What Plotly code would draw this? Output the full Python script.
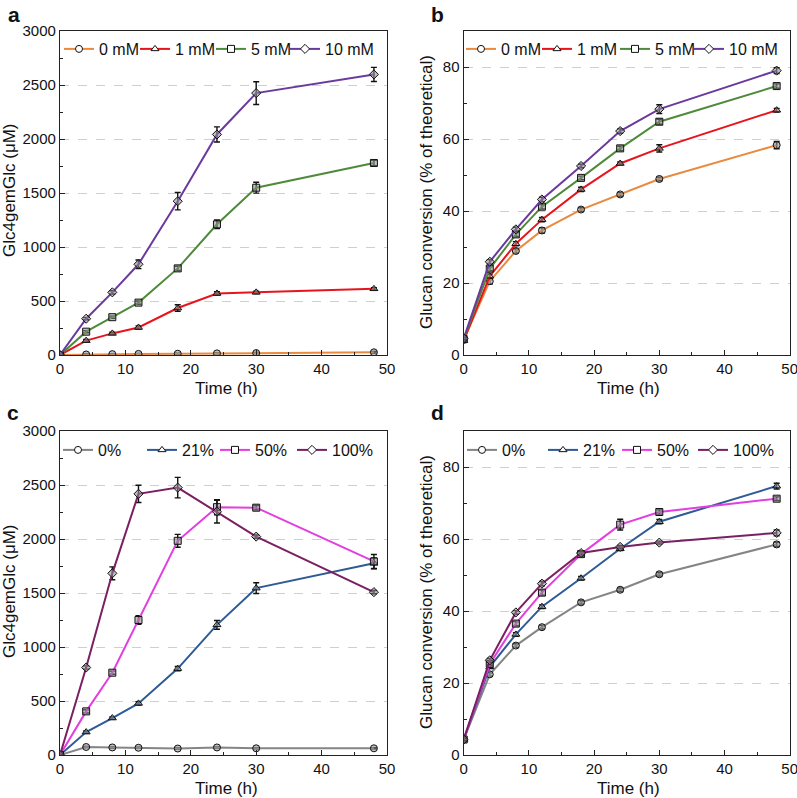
import plotly.graph_objects as go

time_h = [0, 4, 8, 12, 18, 24, 30, 48]

# Panel a: Glc4gemGlc (uM) vs ascorbate concentration
a_labels = ["0 mM", "1 mM", "5 mM", "10 mM"]
a_0mM = [0, 5, 8, 10, 12, 15, 18, 25]
a_1mM = [0, 133, 200, 255, 435, 570, 580, 613]
a_5mM = [0, 216, 350, 485, 802, 1210, 1549, 1778]
a_10mM = [0, 336, 580, 840, 1424, 2042, 2425, 2598]
a_err_0 = [5, 5, 5, 5, 5, 5, 5, 8]
a_err_1 = [5, 10, 10, 15, 30, 15, 10, 10]
a_err_5 = [5, 10, 10, 15, 20, 40, 50, 25]
a_err_10 = [5, 10, 15, 40, 80, 70, 105, 65]

# Panel b: glucan conversion (%)
b_0mM = [4.2, 20.5, 28.9, 34.6, 40.4, 44.6, 48.9, 58.3]
b_1mM = [4.0, 21.9, 30.9, 37.6, 46.0, 53.2, 57.4, 68.0]
b_5mM = [4.4, 24.0, 33.5, 41.2, 49.2, 57.4, 64.8, 74.7]
b_10mM = [4.6, 25.9, 34.9, 43.2, 52.5, 62.2, 68.3, 79.0]
b_err_0 = [0.3, 0.8, 0.6, 0.7, 0.5, 0.5, 0.5, 1.0]
b_err_1 = [0.3, 0.6, 0.6, 0.6, 0.6, 0.4, 1.0, 0.5]
b_err_5 = [0.3, 0.6, 0.6, 0.6, 0.5, 0.6, 0.7, 0.6]
b_err_10 = [0.3, 0.6, 0.6, 0.6, 0.5, 0.6, 1.2, 0.8]

# Panel c: Glc4gemGlc (uM) vs oxygen level
c_labels = ["0%", "21%", "50%", "100%"]
c_0 = [0, 74, 70, 67, 60, 70, 62, 62]
c_21 = [0, 212, 342, 478, 800, 1205, 1545, 1775]
c_50 = [0, 404, 762, 1250, 1983, 2295, 2290, 1792]
c_100 = [0, 810, 1682, 2418, 2476, 2253, 2022, 1508]
c_err_0 = [5, 5, 5, 5, 5, 5, 5, 5]
c_err_21 = [5, 10, 10, 15, 20, 40, 50, 50]
c_err_50 = [5, 15, 15, 40, 60, 70, 20, 65]
c_err_100 = [5, 15, 60, 80, 95, 105, 15, 15]

# Panel d: glucan conversion (%)
d_0 = [4.3, 22.4, 30.4, 35.5, 42.4, 45.9, 50.2, 58.5]
d_21 = [4.3, 24.5, 33.5, 41.2, 49.1, 57.3, 64.8, 74.7]
d_50 = [4.3, 25.3, 36.5, 45.1, 55.8, 64.0, 67.5, 71.2]
d_100 = [4.3, 26.3, 39.6, 47.6, 56.1, 57.8, 59.0, 61.7]
d_err_0 = [0.3, 0.5, 0.5, 0.5, 0.5, 0.5, 0.5, 0.6]
d_err_21 = [0.3, 0.5, 0.5, 0.5, 0.5, 0.5, 0.6, 0.8]
d_err_50 = [0.3, 0.5, 0.6, 0.7, 0.6, 1.5, 0.6, 0.5]
d_err_100 = [0.3, 0.5, 0.5, 0.6, 0.5, 0.4, 0.4, 0.8]

colors_ab = ["#E98A3E", "#E8141C", "#4F8A3A", "#6A3A9E"]
colors_cd = ["#858585", "#2E5A95", "#E23EE0", "#7A1F62"]
symbols = ["circle", "triangle-up", "square", "diamond"]

FONT = "Liberation Sans, Arial, sans-serif"
W, H = 797, 798

fig = go.Figure()

# legend text start positions (px) and legend row centre (px) for each panel
legend_text_x = [
    [99, 175, 251, 325],
    [501, 577, 655, 729],
    [98, 182, 255, 332],
    [502, 583, 657, 733],
]
legend_row_y = [49, 49, 450, 450]

panels = [
    ("x", "y", a_labels, [a_0mM, a_1mM, a_5mM, a_10mM], [a_err_0, a_err_1, a_err_5, a_err_10], colors_ab),
    ("x2", "y2", a_labels, [b_0mM, b_1mM, b_5mM, b_10mM], [b_err_0, b_err_1, b_err_5, b_err_10], colors_ab),
    ("x3", "y3", c_labels, [c_0, c_21, c_50, c_100], [c_err_0, c_err_21, c_err_50, c_err_100], colors_cd),
    ("x4", "y4", c_labels, [d_0, d_21, d_50, d_100], [d_err_0, d_err_21, d_err_50, d_err_100], colors_cd),
]

legends = {}
lg_idx = 0
for p, (xa, ya, labels, series, errs, cols) in enumerate(panels):
    for k, (name, vals, err, col, sym) in enumerate(zip(labels, series, errs, cols, symbols)):
        lg_idx += 1
        lg = "legend" if lg_idx == 1 else "legend%d" % lg_idx
        fig.add_trace(go.Scatter(
            x=time_h, y=vals, mode="lines+markers", name=name,
            xaxis=xa, yaxis=ya, showlegend=False,
            line=dict(color=col, width=2),
            marker=dict(symbol=sym, size=7, color="rgba(140,140,140,0.55)",
                        line=dict(color="#111", width=1)),
            error_y=dict(type="data", array=err, visible=True, color="#111",
                         thickness=1.4, width=3),
        ))
        # legend entry with open marker
        fig.add_trace(go.Scatter(
            x=[None], y=[None], mode="lines+markers", name=name,
            xaxis=xa, yaxis=ya, legend=lg, showlegend=True,
            line=dict(color=col, width=2),
            marker=dict(symbol=sym, size=7, color="white",
                        line=dict(color="#111", width=1)),
        ))
        legends[lg] = dict(
            orientation="h", x=(legend_text_x[p][k] - 40) / W, xanchor="left",
            y=1 - legend_row_y[p] / H, yanchor="middle",
            bgcolor="rgba(0,0,0,0)", font=dict(family=FONT, size=16, color="#111"),
            itemwidth=30, borderwidth=0,
        )

xd_left = [60 / W, 387 / W]
xd_right = [463.7 / W, 789.7 / W]
yd_top = [1 - 355 / H, 1 - 31 / H]
yd_bot = [1 - 755 / H, 1 - 431 / H]

def xaxis(domain, anchor):
    return dict(domain=domain, anchor=anchor, range=[0, 50], dtick=10,
                showline=True, linecolor="#222", linewidth=1.3, mirror=True,
                ticks="inside", ticklen=5, tickcolor="#222",
                minor=dict(ticks="inside", dtick=5, ticklen=3, tickcolor="#222"),
                showgrid=False, zeroline=False, automargin=False,
                ticklabeloverflow="allow",
                tickfont=dict(family=FONT, size=15, color="#111"))

def yaxis(domain, anchor, rng, dtick, minor):
    return dict(domain=domain, anchor=anchor, range=rng, dtick=dtick,
                showline=True, linecolor="#222", linewidth=1.3, mirror=True,
                ticks="inside", ticklen=5, tickcolor="#222",
                minor=dict(ticks="inside", dtick=minor, ticklen=3, tickcolor="#222", showgrid=False),
                showgrid=True, gridcolor="#cfcfcf", griddash="dash", gridwidth=1,
                zeroline=False, automargin=False, ticklabeloverflow="allow",
                tickfont=dict(family=FONT, size=15, color="#111"))

t_glc = "Glc4gemGlc (μM)"
t_conv = "Glucan conversion (% of theoretical)"

fig.update_layout(
    width=W, height=H, margin=dict(l=0, r=0, t=0, b=0, autoexpand=False),
    paper_bgcolor="white", plot_bgcolor="white",
    showlegend=True,
    xaxis=xaxis(xd_left, "y"), yaxis=yaxis(yd_top, "x", [0, 3000], 500, 250),
    xaxis2=xaxis(xd_right, "y2"), yaxis2=yaxis(yd_top, "x2", [0, 90], 20, 10),
    xaxis3=xaxis(xd_left, "y3"), yaxis3=yaxis(yd_bot, "x3", [0, 3000], 500, 250),
    xaxis4=xaxis(xd_right, "y4"), yaxis4=yaxis(yd_bot, "x4", [0, 90], 20, 10),
    **legends,
)

# axis titles
for txt, px, py, ang in [
    ("Time (h)", 226, 388, 0), ("Time (h)", 628, 388, 0),
    ("Time (h)", 226, 788, 0), ("Time (h)", 628, 788, 0),
    (t_glc, 9, 190, -90), (t_conv, 426, 192, -90),
    (t_glc, 9, 591, -90), (t_conv, 426, 592, -90),
]:
    fig.add_annotation(text=txt, x=px / W, y=1 - py / H, xref="paper", yref="paper",
                       showarrow=False, xanchor="center", yanchor="middle", textangle=ang,
                       font=dict(family=FONT, size=17, color="#111"))

for txt, px, py in [("a", 14, 14), ("b", 437, 14), ("c", 13, 412), ("d", 437, 412)]:
    fig.add_annotation(text="<b>%s</b>" % txt, x=px / W, y=1 - py / H, xref="paper", yref="paper",
                       showarrow=False, xanchor="center", yanchor="middle",
                       font=dict(family=FONT, size=21, color="#111"))

fig.write_html("out.html", config={"displayModeBar": False},
               post_script="document.body.style.margin='0';document.body.style.overflow='hidden';")
